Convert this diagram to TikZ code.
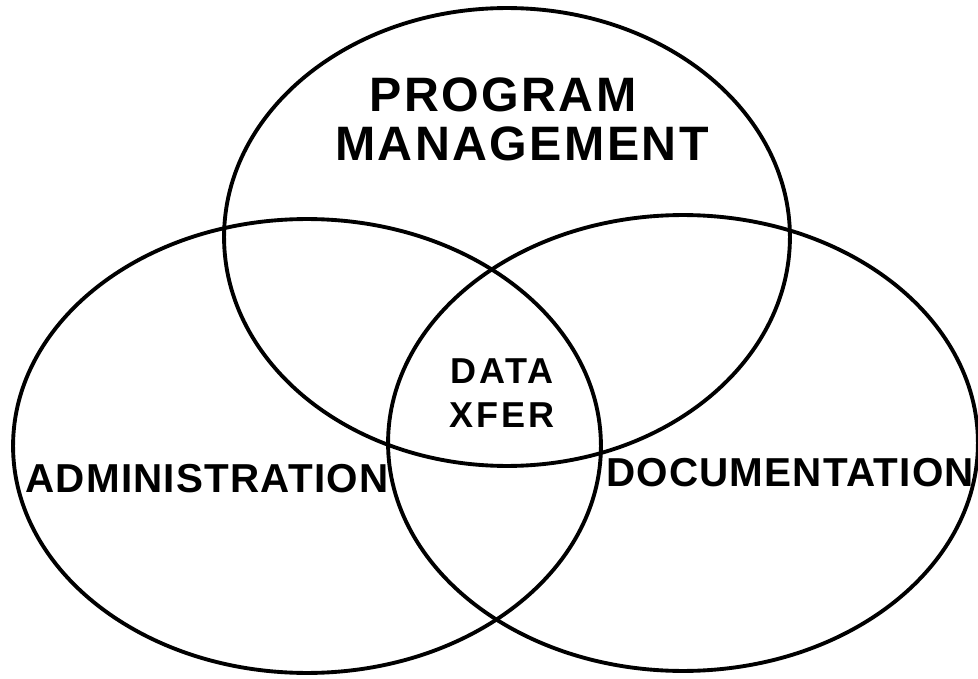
\documentclass[tikz,border=0pt]{standalone}
\usepackage{fontspec}
\setmainfont{Liberation Sans}
\usetikzlibrary{positioning}

\begin{document}
\begin{tikzpicture}[x=0.02cm, y=-0.02cm,
  every node/.style={draw=none, inner sep=0pt, anchor=base},
  set/.style={line width=2.2pt},
  biglabel/.style={font=\bfseries\fontsize{27.5}{30}\selectfont\addfontfeatures{LetterSpace=5}},
  midlabel/.style={font=\bfseries\fontsize{23}{26}\selectfont\addfontfeatures{LetterSpace=3}},
  smalllabel/.style={font=\bfseries\fontsize{20.5}{24}\selectfont\addfontfeatures{LetterSpace=8}}]
  \useasboundingbox (0,0) rectangle (978,679);

  % Centres of the three sets
  \coordinate (cprog) at (507,237);
  \coordinate (cadmin) at (307,446);
  \coordinate (cdoc) at (683,443);

  % Sets
  \draw[set] (cprog) ellipse [x radius=5.66cm, y radius=4.58cm];
  \draw[set] (cadmin) ellipse [x radius=5.88cm, y radius=4.54cm];
  \draw[set] (cdoc) ellipse [x radius=5.9cm, y radius=4.56cm];

  % Labels
  \node[biglabel] (prog) at (503,112) {PROGRAM};
  \node[biglabel] (mgmt) at (522,161) {MANAGEMENT};
  \node[smalllabel] (data) at (502,383) {DATA};
  \node[smalllabel] (xfer) at (502,427) {XFER};
  \node[midlabel] (admin) at (207,492) {ADMINISTRATION};
  \node[midlabel] (doc) at (790,486) {DOCUMENTATION};
\end{tikzpicture}
\end{document}
